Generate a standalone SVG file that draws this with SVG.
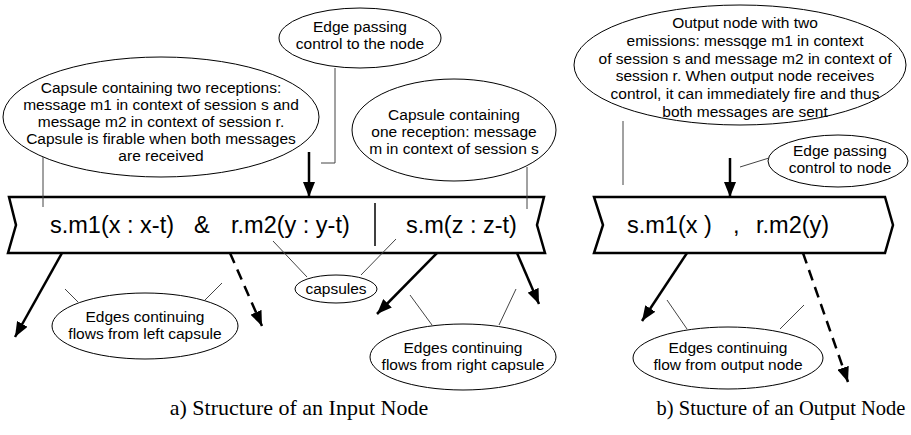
<svg xmlns="http://www.w3.org/2000/svg" width="911" height="435" viewBox="0 0 911 435">
  <style>
    .node { fill: #fff; stroke: #000; stroke-width: 2.5; stroke-linejoin: miter; }
    .nt { font-family: "Liberation Sans", Arial, sans-serif; font-size: 23.5px; fill: #000; }
    .note { fill: #fff; stroke: #000; stroke-width: 1; }
    .nl { font-family: "Liberation Sans", Arial, sans-serif; font-size: 15.5px; fill: #000; text-anchor: middle; }
    .lead { fill: none; stroke: #444; stroke-width: 1; }
    .edge { fill: none; stroke: #000; stroke-width: 2.5; marker-end: url(#ah); }
    .dash { stroke-dasharray: 11 7; }
    .cap { font-family: "Liberation Serif", "Times New Roman", serif; fill: #000; text-anchor: middle; }
  </style>
  <defs>
    <marker id="ah" markerUnits="userSpaceOnUse" markerWidth="16" markerHeight="12" refX="15" refY="6" orient="auto">
      <path d="M0,0 L15,6 L0,12 z" fill="#000"/>
    </marker>
  </defs>
  <rect width="911" height="435" fill="#fff"/>

  <!-- input node with two capsules -->
  <g id="input-node">
    <path class="node" d="M9,197 L544,197 L537,225 L545,253 L8,253 L16,225 z"/>
    <line x1="375" y1="203" x2="375" y2="246" stroke="#000" stroke-width="1.5"/>
    <text class="nt" x="50" y="233">s.m1(x : x-t)</text>
    <text class="nt" x="194" y="233">&amp;</text>
    <text class="nt" x="231" y="233">r.m2(y : y-t)</text>
    <text class="nt" x="406" y="233">s.m(z : z-t)</text>
  </g>

  <!-- output node with two emissions -->
  <g id="output-node">
    <path class="node" d="M594,197 L885,197 L893,225 L885,253 L594,253 L603,225 z"/>
    <text class="nt" x="627" y="233">s.m1(x )</text>
    <text class="nt" x="733" y="233">,</text>
    <text class="nt" x="756" y="233">r.m2(y)</text>
  </g>

  <!-- annotations -->
  <g id="note-two-receptions">
    <ellipse class="note" cx="161" cy="117" rx="158" ry="60"/>
    <text class="nl" x="161" y="93">Capsule containing two receptions:<tspan x="161" dy="17">message m1 in context of session s and</tspan><tspan x="161" dy="17">message m2 in context  of session r.</tspan><tspan x="161" dy="17">Capsule is firable when both messages</tspan><tspan x="161" dy="17">are received</tspan></text>
  </g>
  <g id="note-control-in">
    <ellipse class="note" cx="360" cy="38" rx="81" ry="30"/>
    <text class="nl" x="360" y="32">Edge passing<tspan x="360" dy="17">control to the node</tspan></text>
  </g>
  <g id="note-one-reception">
    <ellipse class="note" cx="454" cy="130" rx="102" ry="51"/>
    <text class="nl" x="454" y="120">Capsule containing<tspan x="454" dy="17">one reception: message</tspan><tspan x="454" dy="17">m in context of session s</tspan></text>
  </g>
  <g id="note-capsules">
    <ellipse class="note" cx="336" cy="289" rx="41" ry="14"/>
    <text class="nl" x="336" y="294">capsules</text>
  </g>
  <g id="note-left-flows">
    <ellipse class="note" cx="145" cy="326" rx="93" ry="33"/>
    <text class="nl" x="145" y="322">Edges continuing<tspan x="145" dy="17">flows from left capsule</tspan></text>
  </g>
  <g id="note-right-flows">
    <ellipse class="note" cx="463" cy="357" rx="93" ry="33"/>
    <text class="nl" x="463" y="353">Edges continuing<tspan x="463" dy="17">flows from right capsule</tspan></text>
  </g>
  <g id="note-two-emissions">
    <ellipse class="note" cx="740" cy="65" rx="166" ry="60"/>
    <text class="nl" x="745" y="28">Output node with two<tspan x="745" dy="17.8">emissions: messqge m1 in context</tspan><tspan x="745" dy="17.8">of session s and message m2 in context of</tspan><tspan x="745" dy="17.8">session r. When output node receives</tspan><tspan x="745" dy="17.8">control, it can immediately fire and thus</tspan><tspan x="745" dy="17.8">both messages are sent</tspan></text>
  </g>
  <g id="note-control-out">
    <ellipse class="note" cx="838" cy="161" rx="70" ry="26"/>
    <text class="nl" x="840" y="156">Edge passing<tspan x="840" dy="17">control to node</tspan></text>
  </g>
  <g id="note-output-flows">
    <ellipse class="note" cx="728" cy="358" rx="95" ry="31"/>
    <text class="nl" x="728" y="353">Edges continuing<tspan x="728" dy="17">flow from output node</tspan></text>
  </g>

  <!-- connectors -->
  <g id="connectors">
    <!-- control edges -->
    <line class="edge" x1="309" y1="152" x2="309" y2="197"/>
    <line class="edge" x1="730" y1="158" x2="730" y2="197"/>
    <!-- flows out of the input node -->
    <line class="edge" x1="62" y1="253" x2="15" y2="337"/>
    <line class="edge dash" x1="230" y1="253" x2="262" y2="326"/>
    <line class="edge" x1="437" y1="253" x2="377" y2="314"/>
    <line class="edge" x1="517" y1="253" x2="539" y2="304"/>
    <!-- flows out of the output node -->
    <line class="edge" x1="687" y1="253" x2="642" y2="321"/>
    <line class="edge dash" x1="803" y1="253" x2="848" y2="382"/>

    <!-- annotation leaders -->
    <line class="lead" x1="43" y1="157" x2="43" y2="207"/>
    <polyline class="lead" points="335,68 335,163 321,163"/>
    <line class="lead" x1="527" y1="167" x2="527" y2="209"/>
    <line class="lead" x1="273" y1="241" x2="307" y2="277"/>
    <line class="lead" x1="396" y1="239" x2="361" y2="275"/>
    <line class="lead" x1="65" y1="289" x2="78" y2="302"/>
    <line class="lead" x1="222" y1="283" x2="205" y2="300"/>
    <line class="lead" x1="410" y1="295" x2="432" y2="325"/>
    <line class="lead" x1="516" y1="289" x2="499" y2="325"/>
    <line class="lead" x1="623" y1="121" x2="623" y2="185"/>
    <line class="lead" x1="740" y1="167" x2="769" y2="158"/>
    <line class="lead" x1="667" y1="300" x2="687" y2="329"/>
    <line class="lead" x1="804" y1="305" x2="780" y2="329"/>
  </g>

  <!-- captions -->
  <text class="cap" x="299" y="415" font-size="22">a) Structure of an Input Node</text>
  <text class="cap" x="781" y="415" font-size="20.5">b) Stucture of an Output Node</text>
</svg>
